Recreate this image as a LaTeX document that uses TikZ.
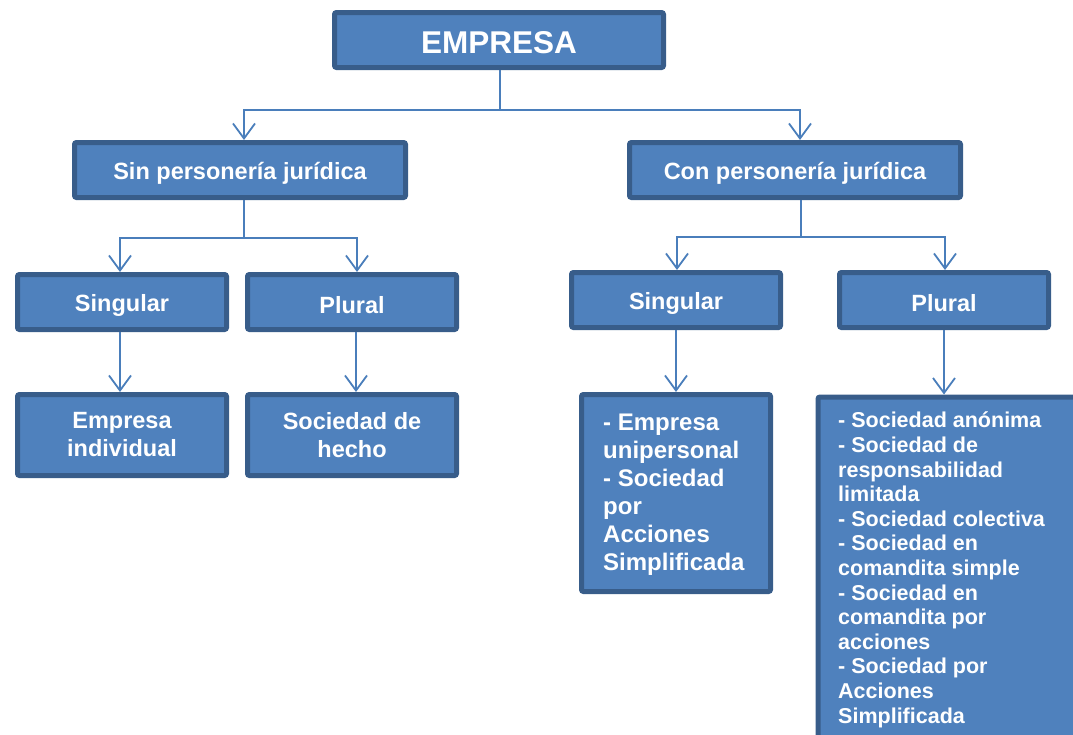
\documentclass[tikz,border=0pt]{standalone}
\usepackage{fontspec}
\setmainfont{Liberation Sans}
\usetikzlibrary{arrows.meta}
\definecolor{boxfill}{HTML}{4F81BD}
\definecolor{boxline}{HTML}{385D8A}
\definecolor{connline}{HTML}{4A7EBB}
\newcommand{\dn}[1]{\raisebox{-3pt}[\height][\depth]{#1}}
\tikzset{
  box/.style={draw=boxline, fill=boxfill, line width=5pt, rounded corners=2pt,
    text=white, font=\bfseries\fontsize{23.5}{28}\selectfont, align=center, inner sep=0pt},
  conn/.style={draw=connline, line width=1.8pt},
  arr/.style={conn, -{Straight Barb[length=15pt,width=22pt,line width=1.8pt]}}
}
\begin{document}
\begin{tikzpicture}[x=1pt,y=-1pt]
\useasboundingbox (0,0) rectangle (1073,734);
\begin{scope}
\clip (0,0) rectangle (1073,734);
\node[box, minimum width=329, minimum height=55, font=\bfseries\fontsize{31.5}{36}\selectfont] (E) at (499,40) {\dn{EMPRESA}};
\node[box, minimum width=331, minimum height=55] (Sin) at (240,170) {\dn{Sin personería jurídica}};
\node[box, minimum width=331, minimum height=55] (Con) at (795,170) {\dn{Con personería jurídica}};
\node[box, minimum width=209, minimum height=55] (SL) at (122,302) {\dn{Singular}};
\node[box, minimum width=209, minimum height=55] (PL) at (352,302) {\dn{Plural}};
\node[box, minimum width=209, minimum height=81] (EI) at (122,435) {Empresa\\individual};
\node[box, minimum width=209, minimum height=81] (SH) at (352,435) {Sociedad de\\hecho};
\node[box, minimum width=209, minimum height=55] (SR) at (676,300) {\dn{Singular}};
\node[box, minimum width=209, minimum height=55] (PR) at (944,300) {\dn{Plural}};
\node[box, minimum width=189, minimum height=197] (R1) at (676,493) {};
\node[text=white, font=\bfseries\fontsize{24}{28}\selectfont, align=left, anchor=north west, inner sep=0pt] (R1t) at (603,414) {- Empresa\\unipersonal\\- Sociedad\\por\\Acciones\\Simplificada};
\node[box, minimum width=300, minimum height=400, anchor=north west] (R2) at (815.5,394.5) {};
\node[text=white, font=\bfseries\fontsize{21.5}{24.6}\selectfont, align=left, anchor=north west, inner sep=0pt] (R2t) at (838,412) {- Sociedad anónima\\- Sociedad de\\responsabilidad\\limitada\\- Sociedad colectiva\\- Sociedad en\\comandita simple\\- Sociedad en\\comandita por\\acciones\\- Sociedad por\\Acciones\\Simplificada};
\end{scope}
\coordinate (h1) at (500,110);
\coordinate (h2) at (244,238);
\coordinate (h3) at (801,237);
\draw[conn] (E.south -| h1) -- (h1);
\draw[arr] (h1) -| ([xshift=4pt]Sin.north);
\draw[arr] (h1) -| ([xshift=5pt]Con.north);
\draw[conn] (Sin.south -| h2) -- (h2);
\draw[arr] (h2) -| ([xshift=-2pt]SL.north);
\draw[arr] (h2) -| ([xshift=5pt]PL.north);
\draw[conn] (Con.south -| h3) -- (h3);
\draw[arr] (h3) -| ([xshift=1pt]SR.north);
\draw[arr] (h3) -| ([xshift=1pt]PR.north);
\draw[arr] ([xshift=-2pt]SL.south) -- ([xshift=-2pt]EI.north);
\draw[arr] ([xshift=4pt]PL.south) -- ([xshift=4pt]SH.north);
\draw[arr] (SR.south) -- (R1.north);
\draw[arr] (PR.south) -- (PR.south |- R2.north);
\end{tikzpicture}
\end{document}
